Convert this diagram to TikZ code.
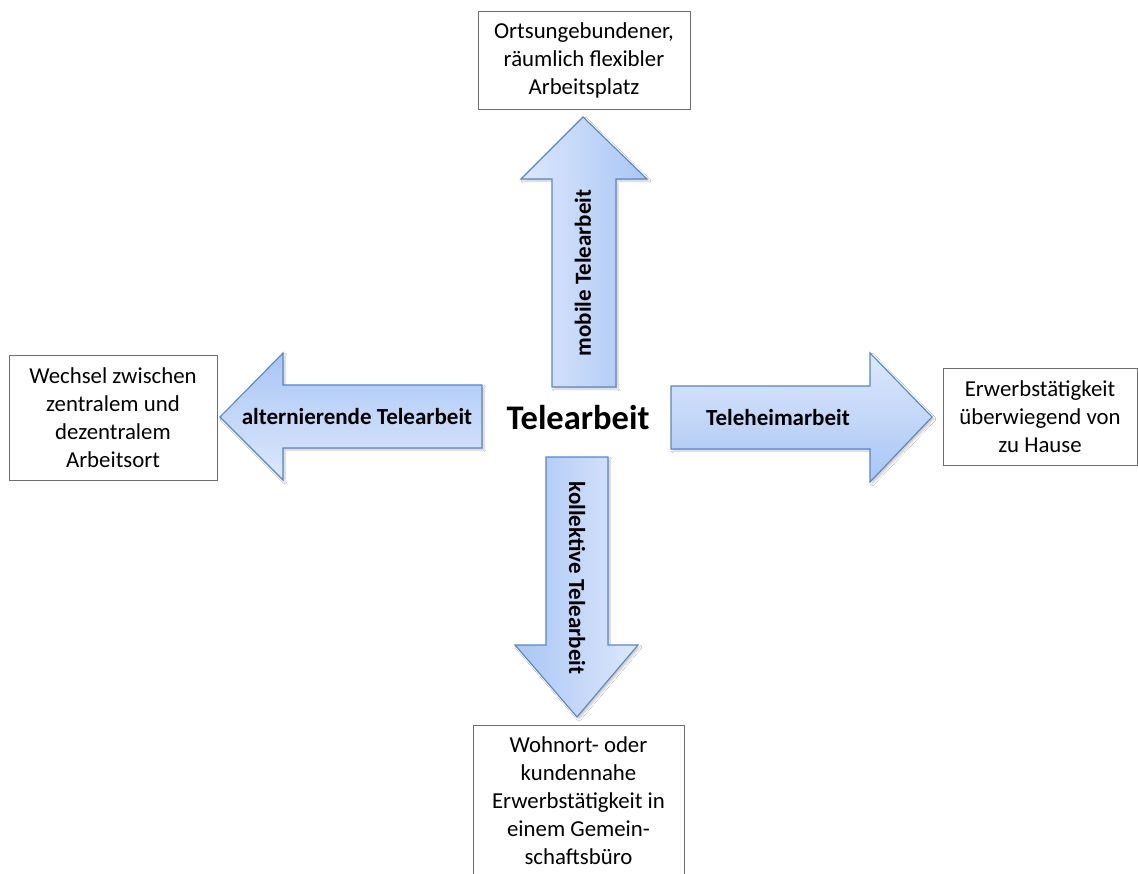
\documentclass[tikz,border=0pt]{standalone}
\usepackage{fontspec}
\setmainfont{Carlito}
\usetikzlibrary{shadows,shadows.blur}
\definecolor{arrlight}{HTML}{DDE8FC}
\definecolor{arrdark}{HTML}{A9C6F4}
\definecolor{arrline}{HTML}{5A86C4}
\definecolor{boxline}{HTML}{6E6E6E}
\tikzset{
  arrowshape/.style={draw=arrline, line width=1.1pt, line join=miter,
    blur shadow={shadow blur steps=6, shadow xshift=2pt, shadow yshift=-2pt, shadow opacity=22}},
  infobox/.style={draw=boxline, line width=0.9pt, fill=white, align=center,
    font=\fontsize{22.8}{28}\selectfont, inner sep=0pt},
  arrowlabel/.style={font=\bfseries\fontsize{23}{26}\selectfont, inner sep=0pt},
}
\begin{document}
\begin{tikzpicture}[x=1pt,y=-1pt]
\useasboundingbox (0,0) rectangle (1138,874);
\clip (0,0) rectangle (1138,874);
\fill[white] (0,0) rectangle (1138,874);

% arrows
\path[arrowshape, left color=arrlight, right color=arrdark]
  (583,117) -- (647,179) -- (616,179) -- (616,387) -- (552,387) -- (552,179) -- (521,179) -- cycle;
\path[arrowshape, top color=arrdark, bottom color=arrlight]
  (220,417) -- (283,353) -- (283,385) -- (482,385) -- (482,448) -- (283,448) -- (283,480) -- cycle;
\path[arrowshape, top color=arrlight, bottom color=arrdark]
  (932,417) -- (870,482) -- (870,449) -- (671,449) -- (671,386) -- (870,386) -- (870,353) -- cycle;
\path[arrowshape, left color=arrdark, right color=arrlight]
  (577,717) -- (515,645) -- (546,645) -- (546,457) -- (608,457) -- (608,645) -- (638,645) -- cycle;

% arrow labels
\node[arrowlabel, rotate=90] (lmob) at (583,273) {mobile Telearbeit};
\node[arrowlabel] (lalt) at (357,417) {alternierende Telearbeit};
\node[arrowlabel] (lheim) at (778,418) {Teleheimarbeit};
\node[arrowlabel, rotate=-90] (lkol) at (577,578) {kollektive Telearbeit};

% centre
\node[font=\bfseries\fontsize{34.5}{40}\selectfont, inner sep=0pt] (center) at (578,418) {Telearbeit};

% boxes
\node[infobox, minimum width=212pt, minimum height=98pt] (top) at (584,60)
  {Ortsungebundener,\\räumlich flexibler\\Arbeitsplatz};
\node[infobox, minimum width=208pt, minimum height=125pt] (left) at (113,417.5)
  {Wechsel zwischen\\zentralem und\\dezentralem\\Arbeitsort};
\node[infobox, minimum width=194pt, minimum height=97pt] (right) at (1040,416.5)
  {Erwerbstätigkeit\\überwiegend von\\zu Hause};
\node[infobox, minimum width=211pt, minimum height=152pt] (bottom) at (578.5,801)
  {Wohnort- oder\\kundennahe\\Erwerbstätigkeit in\\einem Gemein-\\schaftsbüro};
\end{tikzpicture}
\end{document}
